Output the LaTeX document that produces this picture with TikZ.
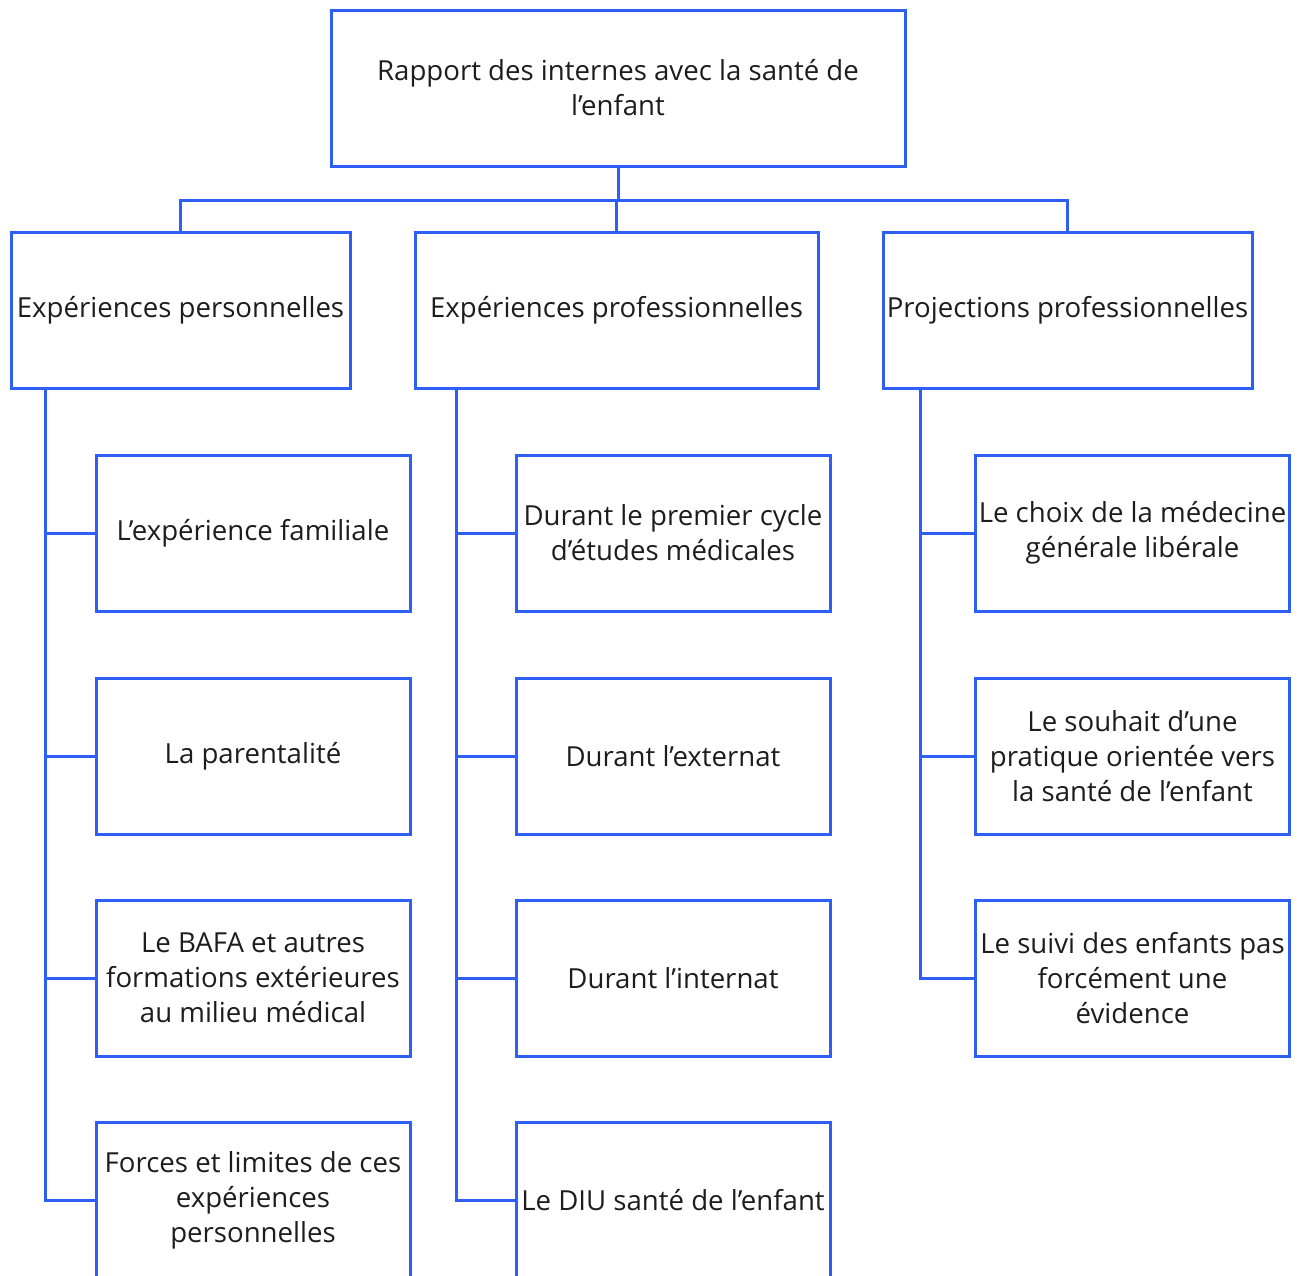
\documentclass[tikz,border=0pt]{standalone}
\usepackage{fontspec}
\setmainfont{Open Sans}
\definecolor{lineblue}{RGB}{45,95,245}
\definecolor{txt}{RGB}{30,28,30}
\newcommand{\fs}{\fontsize{27.6}{35}\selectfont}
\tikzset{
  box/.style={draw=lineblue, line width=3pt, text=txt, font=\fs, align=center, inner sep=0pt, minimum height=156pt},
  conn/.style={draw=lineblue, line width=3pt},
}
\begin{document}
\begin{tikzpicture}[x=1pt,y=-1pt]
\useasboundingbox (0,0) rectangle (1304,1275);
\clip (0,0) rectangle (1304,1275);
\fill[white] (0,0) rectangle (1304,1275);
\node[box, minimum width=574pt] (top) at (618,88) {Rapport des internes avec la santé de\\l’enfant};
\node[box, minimum width=339pt] (A) at (180.5,310.5) {Expériences personnelles};
\node[box, minimum width=403pt] (B) at (616.5,310.5) {Expériences professionnelles};
\node[box, minimum width=369pt] (C) at (1067.5,310.5) {Projections professionnelles};
\coordinate (bus) at (0,200);
\draw[conn] (top.south) -- (top.south |- bus) -| (A.north);
\draw[conn] (top.south |- bus) -| (C.north);
\draw[conn] (top.south |- bus) -| (B.north);
% children A
\node[box, minimum width=314pt] (a1) at (253,533) {L’expérience familiale};
\node[box, minimum width=314pt] (a2) at (253,756) {La parentalité};
\node[box, minimum width=314pt] (a3) at (253,978) {Le BAFA et autres\\formations extérieures\\au milieu médical};
\node[box, minimum width=314pt] (a4) at (253,1200) {Forces et limites de ces\\expériences\\personnelles};
% children B
\node[box, minimum width=314pt] (b1) at (673,533) {Durant le premier cycle\\d’études médicales};
\node[box, minimum width=314pt] (b2) at (673,756) {Durant l’externat};
\node[box, minimum width=314pt] (b3) at (673,978) {Durant l’internat};
\node[box, minimum width=314pt] (b4) at (673,1200) {Le DIU santé de l’enfant};
% children C
\node[box, minimum width=314pt] (c1) at (1132.5,533) {Le choix de la médecine\\générale libérale};
\node[box, minimum width=314pt] (c2) at (1132.5,756) {Le souhait d’une\\pratique orientée vers\\la santé de l’enfant};
\node[box, minimum width=314pt] (c3) at (1132.5,978) {Le suivi des enfants pas\\forcément une\\évidence};
% spines
\coordinate (sa) at (45,389);
\coordinate (sb) at (456,389);
\coordinate (sc) at (920,389);
\foreach \c in {a1,a2,a3} \draw[conn] (sa |- \c.west) -- (\c.west);
\draw[conn] (sa) |- (a4.west);
\foreach \c in {b1,b2,b3} \draw[conn] (sb |- \c.west) -- (\c.west);
\draw[conn] (sb) |- (b4.west);
\foreach \c in {c1,c2} \draw[conn] (sc |- \c.west) -- (\c.west);
\draw[conn] (sc) |- (c3.west);
\end{tikzpicture}
\end{document}
